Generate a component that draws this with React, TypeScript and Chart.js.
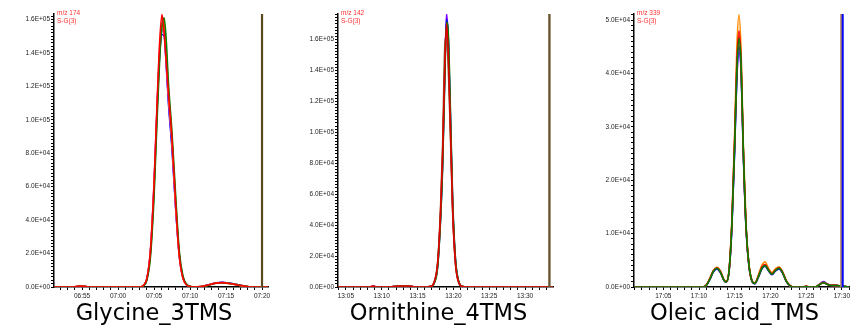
import React, { useEffect, useRef } from 'react';
import { Chart, registerables } from 'chart.js';

Chart.register(...registerables);

// ---------- Panel 1: Glycine_3TMS (time in minutes from 00:00) ----------
const T1 = [411.1, 413.5, 414.0, 414.5, 415.0, 415.5, 416.0, 422.5, 423.0, 423.5, 424.0, 424.5, 425.0, 425.4, 425.8, 426.1, 426.4, 426.7, 427.0, 427.5, 428.0, 428.5, 429.0, 429.5, 430.0, 430.5, 431.5, 432.5, 433.5, 434.5, 435.5, 436.5, 437.5, 438.5, 440.8];
const G_RED = [0, 0, 150, 400, 500, 300, 0, 0, 0, 900, 5000, 22000, 62000, 108000, 148000, 163000, 152000, 134000, 116000, 88000, 50000, 19000, 5500, 1400, 300, 0, 200, 1200, 2300, 2600, 2100, 1300, 500, 0, 0];
const G_GREEN = [0, 0, 100, 350, 450, 250, 0, 0, 0, 700, 4000, 18000, 54000, 98000, 138000, 156000, 161000, 147000, 122000, 92000, 55000, 22000, 7000, 1800, 400, 0, 150, 1000, 2100, 2500, 2100, 1400, 600, 0, 0];
const G_ORANGE = [0, 0, 150, 400, 500, 300, 0, 0, 0, 800, 4500, 20000, 58000, 102000, 142000, 155000, 158000, 140000, 118000, 88000, 51000, 20000, 6000, 1500, 300, 0, 200, 1100, 2200, 2500, 2000, 1300, 500, 0, 0];
const G_BLUE = [0, 0, 100, 300, 400, 250, 0, 0, 0, 800, 4800, 21000, 60000, 104000, 140000, 151000, 150000, 132000, 110000, 82000, 47000, 19000, 5800, 1500, 300, 0, 200, 1300, 2400, 2800, 2300, 1500, 600, 0, 0];
const G_PURPLE = [0, 0, 120, 350, 450, 280, 0, 0, 0, 850, 4900, 21500, 61000, 105000, 142000, 153000, 154000, 134000, 112000, 84000, 48000, 19000, 5800, 1500, 300, 0, 180, 1200, 2300, 2700, 2200, 1400, 550, 0, 0];
const G_PINK = [0, 0, 130, 380, 480, 300, 0, 0, 0, 900, 5000, 22000, 62000, 106000, 145000, 158000, 153000, 133000, 113000, 86000, 48000, 19000, 5600, 1400, 300, 0, 200, 1150, 2250, 2550, 2050, 1300, 500, 0, 0];

// ---------- Panel 2: Ornithine_4TMS ----------
const T2 = [783.9, 788.3, 788.8, 789.3, 791.2, 792.0, 793.0, 794.0, 794.6, 796.0, 796.8, 797.3, 797.8, 798.2, 798.5, 798.8, 799.05, 799.3, 799.6, 799.9, 800.3, 800.8, 801.3, 801.8, 813.9];
const O_PURPLE = [0, 0, 500, 0, 0, 500, 600, 500, 0, 0, 300, 2500, 14000, 45000, 82000, 140000, 176500, 158000, 105000, 52000, 16000, 2500, 300, 0, 0];
const O_BLUE = [0, 0, 400, 0, 0, 450, 550, 450, 0, 0, 300, 2400, 13500, 44000, 80000, 138000, 173000, 160000, 108000, 54000, 17000, 2600, 300, 0, 0];
const O_GREEN = [0, 0, 350, 0, 0, 400, 500, 400, 0, 0, 250, 2200, 12500, 42000, 77000, 134000, 171000, 163000, 112000, 57000, 18000, 2800, 350, 0, 0];
const O_RED = [0, 0, 550, 0, 0, 500, 600, 500, 0, 0, 350, 2800, 15000, 47000, 86000, 142000, 170000, 150000, 100000, 50000, 15000, 2300, 250, 0, 0];
const O_BROWN = [0, 0, 450, 0, 0, 550, 650, 550, 0, 0, 400, 3000, 16000, 50000, 92000, 155000, 162000, 140000, 96000, 48000, 14500, 2200, 250, 0, 0];
const O_ORANGE = [0, 0, 400, 0, 0, 450, 550, 450, 0, 0, 320, 2600, 14500, 46000, 84000, 141000, 168000, 152000, 102000, 51000, 15500, 2400, 280, 0, 0];

// ---------- Panel 3: Oleic acid_TMS ----------
const T3 = [1020.9, 1030.5, 1031.0, 1031.5, 1032.0, 1032.5, 1033.0, 1033.5, 1033.8, 1034.2, 1034.6, 1035.0, 1035.3, 1035.6, 1035.9, 1036.2, 1036.6, 1037.0, 1037.4, 1037.8, 1038.3, 1038.8, 1039.25, 1039.7, 1040.2, 1040.7, 1041.2, 1041.7, 1042.2, 1042.7, 1043.2, 1044.5, 1045.0, 1045.5, 1046.3, 1046.8, 1047.4, 1048.0, 1048.5, 1049.2, 1049.8, 1051.0];
const L_RED = [0, 0, 300, 1500, 3000, 3600, 2900, 1300, 1000, 3000, 12000, 28000, 42000, 48000, 42000, 26000, 11000, 4000, 1200, 700, 2000, 3700, 4200, 3300, 2500, 3200, 3600, 2800, 1200, 300, 0, 0, 120, 0, 0, 400, 820, 500, 300, 300, 200, 0];
const L_ORANGE = [0, 0, 320, 1600, 3100, 3700, 3000, 1350, 1050, 3100, 12500, 29500, 45000, 51000, 44000, 27000, 11500, 4200, 1300, 750, 2200, 4100, 4700, 3600, 2700, 3400, 3800, 2900, 1250, 320, 0, 0, 150, 0, 0, 420, 850, 520, 320, 310, 210, 0];
const L_GREEN = [0, 0, 280, 1400, 2900, 3500, 2800, 1250, 950, 2900, 11500, 27000, 40500, 46500, 41500, 26000, 11000, 4000, 1200, 650, 1900, 3500, 4000, 3200, 2400, 3100, 3500, 2700, 1150, 280, 0, 0, 100, 0, 0, 380, 800, 480, 290, 290, 190, 0];
const L_BLUE = [0, 0, 270, 1350, 2800, 3400, 2700, 1200, 900, 2800, 11000, 26000, 39500, 45000, 40500, 25500, 10800, 3900, 1150, 600, 1800, 3400, 3900, 3100, 2300, 3000, 3400, 2600, 1100, 270, 0, 0, 100, 0, 0, 400, 900, 500, 300, 300, 200, 0];
const L_PURPLE = [0, 0, 280, 1400, 2850, 3450, 2750, 1250, 950, 2850, 11200, 26500, 39000, 44000, 40000, 25000, 10500, 3800, 1100, 650, 1850, 3450, 3950, 3150, 2350, 3050, 3450, 2650, 1100, 270, 0, 0, 110, 0, 0, 450, 1000, 550, 300, 300, 200, 0];
const L_BROWN = [0, 0, 300, 1450, 2950, 3550, 2850, 1280, 980, 2950, 11800, 27500, 41500, 47000, 41000, 25800, 10900, 3950, 1180, 680, 1950, 3600, 4100, 3250, 2450, 3150, 3550, 2750, 1180, 290, 0, 0, 110, 0, 0, 390, 810, 490, 300, 300, 200, 0];

// ---------- Axis ranges, ticks, markers, labels ----------
const TITLES = ['Glycine_3TMS', 'Ornithine_4TMS', 'Oleic acid_TMS'];
const MZ_LABELS = ['m/z 174', 'm/z 142', 'm/z 339'];
const SG_LABEL = 'S-G(3)';
const X_MIN = [411.1, 783.9, 1020.9];
const X_MAX = [440.83, 813.9, 1051.0];
const X_LABEL_TICKS = [
  [415, 420, 425, 430, 435, 440],
  [785, 790, 795, 800, 805, 810],
  [1025, 1030, 1035, 1040, 1045, 1050],
];
const Y_MAX = [163300, 176400, 51160];
const Y_LABEL_TICKS = [
  [0, 20000, 40000, 60000, 80000, 100000, 120000, 140000, 160000],
  [0, 20000, 40000, 60000, 80000, 100000, 120000, 140000, 160000],
  [0, 10000, 20000, 30000, 40000, 50000],
];
const Y_MINOR = [2000, 2000, 1000];
const MARKER_X = [440, 813.4, 1050];

const fmtTime = (v: number) => {
  const h = Math.floor(v / 60);
  const m = Math.round(v - h * 60);
  return String(h).padStart(2, '0') + ':' + String(m).padStart(2, '0');
};
const fmtE = (v: number) => {
  if (v === 0) return '0.0E+00';
  const e = Math.floor(Math.log10(v) + 1e-9);
  const m = v / Math.pow(10, e);
  return m.toFixed(1) + 'E+' + String(e).padStart(2, '0');
};

const annotPlugin = {
  id: 'annot',
  afterDraw(chart: any, _args: any, opts: any) {
    const { ctx, chartArea } = chart;
    ctx.save();
    ctx.fillStyle = '#ff3030';
    ctx.font = '6.5px "Liberation Sans", Arial, sans-serif';
    ctx.textAlign = 'left';
    ctx.textBaseline = 'middle';
    ctx.fillText(opts.mz, chartArea.left + 3, 13);
    ctx.fillText(opts.sg, chartArea.left + 3, 21);
    ctx.fillStyle = '#000';
    ctx.font = '22.5px "DejaVu Sans", sans-serif';
    ctx.textAlign = 'center';
    ctx.textBaseline = 'alphabetic';
    ctx.fillText(opts.title, (chartArea.left + chartArea.right) / 2 - 7, 320);
    ctx.restore();
  },
};

type Trace = { t: number[]; v: number[]; color: string };

const PANELS = [
  {
    left: 0, width: 280, padRight: 12,
    traces: [
      { t: T1, v: G_RED, color: '#ff0000' },
      { t: T1, v: G_GREEN, color: '#008000' },
      { t: T1, v: G_ORANGE, color: '#ff8c00' },
      { t: T1, v: G_PINK, color: '#ff6f8f' },
      { t: T1, v: G_BLUE, color: '#0000ff' },
      { t: T1, v: G_PURPLE, color: '#8a2be2' },
    ] as Trace[],
    markers: [{ dx: 0, color: '#5a4a1e', w: 2.2 }],
  },
  {
    left: 284, width: 280, padRight: 11,
    traces: [
      { t: T2, v: O_RED, color: '#e00000' },
      { t: T2, v: O_BROWN, color: '#7a5a28' },
      { t: T2, v: O_GREEN, color: '#008000' },
      { t: T2, v: O_ORANGE, color: '#ff8c00' },
      { t: T2, v: O_BLUE, color: '#0000ff' },
      { t: T2, v: O_PURPLE, color: '#8000ff' },
    ] as Trace[],
    markers: [{ dx: 0, color: '#6b5632', w: 2.4 }],
  },
  {
    left: 580, width: 271, padRight: 2,
    traces: [
      { t: T3, v: L_GREEN, color: '#008000' },
      { t: T3, v: L_RED, color: '#ff0000' },
      { t: T3, v: L_BROWN, color: '#8b4513' },
      { t: T3, v: L_ORANGE, color: '#ff8c00' },
      { t: T3, v: L_BLUE, color: '#0000ff' },
      { t: T3, v: L_PURPLE, color: '#8a2be2' },
    ] as Trace[],
    markers: [
      { dx: 0.12, color: '#0000ff', w: 2 },
      { dx: -0.1, color: '#b08a6a', w: 2 },
    ],
  },
];

function Panel({ idx }: { idx: number }) {
  const ref = useRef<HTMLCanvasElement>(null);
  const p = PANELS[idx];
  useEffect(() => {
    if (!ref.current) return;
    const datasets: any[] = [];
    p.markers.forEach((m) => {
      datasets.push({
        data: [
          { x: MARKER_X[idx] + m.dx, y: 0 },
          { x: MARKER_X[idx] + m.dx, y: Y_MAX[idx] },
        ],
        borderColor: m.color,
        borderWidth: m.w,
        pointRadius: 0,
        tension: 0,
      });
    });
    p.traces.forEach((tr) => {
      datasets.push({
        data: tr.t.map((x, i) => ({ x, y: tr.v[i] })),
        borderColor: tr.color,
        borderWidth: 1.6,
        pointRadius: 0,
        cubicInterpolationMode: 'monotone',
      });
    });
    const xLabels = X_LABEL_TICKS[idx];
    const yLabels = Y_LABEL_TICKS[idx];
    const tickFont = { family: '"Liberation Sans", Arial, sans-serif', size: 6.5 };
    const chart = new Chart(ref.current, {
      type: 'line',
      data: { datasets },
      plugins: [annotPlugin],
      options: {
        animation: false,
        responsive: false,
        events: [],
        layout: { padding: { left: 0, right: p.padRight, top: 14, bottom: 0 } },
        plugins: {
          legend: { display: false },
          tooltip: { enabled: false },
          annot: { mz: MZ_LABELS[idx], sg: SG_LABEL, title: TITLES[idx] },
        } as any,
        scales: {
          x: {
            type: 'linear',
            min: X_MIN[idx],
            max: X_MAX[idx],
            afterFit: (s: any) => { s.height = 43; },
            afterBuildTicks: (s: any) => {
              const ticks: any[] = [];
              for (let v = Math.ceil(X_MIN[idx]); v <= X_MAX[idx]; v += 1) ticks.push({ value: v });
              s.ticks = ticks;
            },
            border: { display: true, color: '#000', width: 1.5 },
            grid: { drawOnChartArea: false, drawTicks: true, tickLength: 3, color: '#000' },
            ticks: {
              autoSkip: false,
              maxRotation: 0,
              minRotation: 0,
              padding: 2,
              color: '#222',
              font: tickFont,
              callback: (v: any) => {
                const n = Math.round(Number(v));
                return xLabels.includes(n) ? fmtTime(n) : '';
              },
            },
          },
          y: {
            type: 'linear',
            min: 0,
            max: Y_MAX[idx],
            afterFit: (s: any) => { s.width = 54; },
            afterBuildTicks: (s: any) => {
              const ticks: any[] = [];
              const step = Y_MINOR[idx];
              for (let k = 0; k * step <= Y_MAX[idx]; k++) ticks.push({ value: k * step });
              s.ticks = ticks;
            },
            border: { display: true, color: '#000', width: 1.5 },
            grid: { drawOnChartArea: false, drawTicks: true, tickLength: 3, color: '#000' },
            ticks: {
              autoSkip: false,
              padding: 1,
              color: '#222',
              font: tickFont,
              callback: (v: any) => {
                const n = Math.round(Number(v));
                return yLabels.includes(n) ? fmtE(n) : '';
              },
            },
          },
        },
      } as any,
    });
    return () => chart.destroy();
  }, []);
  return (
    <div style={{ position: 'absolute', left: p.left, top: 0, width: p.width, height: 330 }}>
      <canvas ref={ref} width={p.width} height={330} style={{ width: p.width, height: 330, display: 'block' }} />
    </div>
  );
}

export default function App() {
  return (
    <div style={{ position: 'absolute', left: 0, top: 0, width: 851, height: 330, background: '#fff', overflow: 'hidden' }}>
      <Panel idx={0} />
      <Panel idx={1} />
      <Panel idx={2} />
    </div>
  );
}
